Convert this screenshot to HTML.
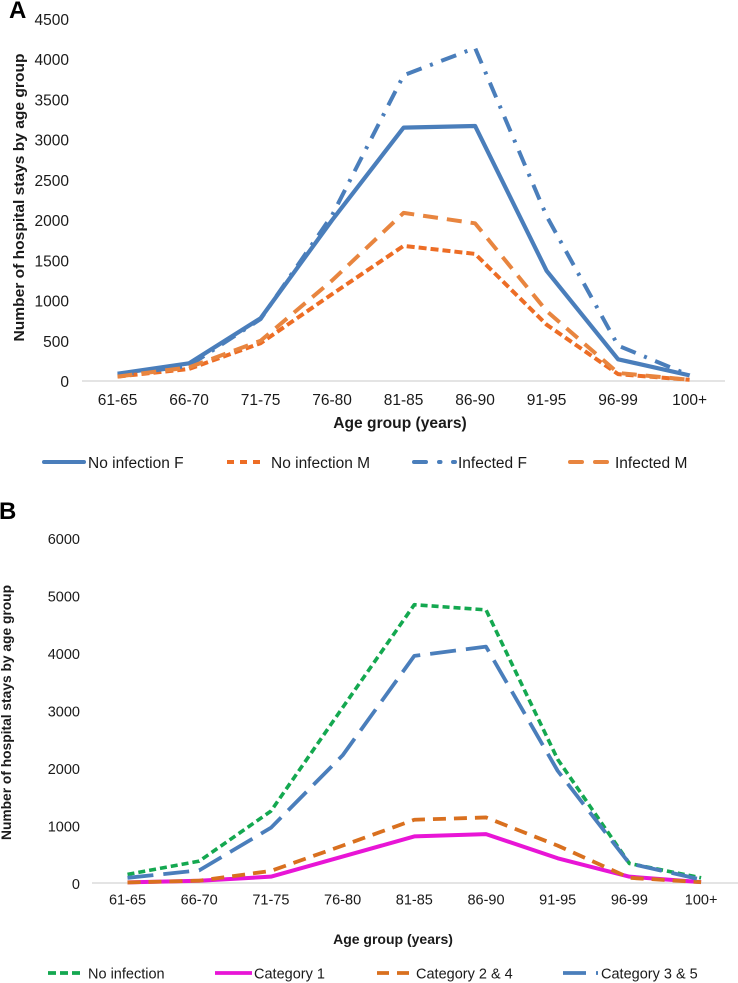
<!DOCTYPE html>
<html><head><meta charset="utf-8">
<style>
html,body{margin:0;padding:0;background:#fff}
svg{display:block}
text{font-family:"Liberation Sans",Arial,sans-serif;fill:#1a1a1a}
</style></head>
<body>
<svg id="fig" width="738" height="983" viewBox="0 0 738 983" xmlns="http://www.w3.org/2000/svg">
<text x="9" y="18" font-size="24" font-weight="bold" style="fill:#000">A</text>
<text x="-1" y="519" font-size="24" font-weight="bold" style="fill:#000">B</text>
<text transform="translate(24,197.5) rotate(-90)" text-anchor="middle" font-size="15" font-weight="bold" textLength="288" lengthAdjust="spacingAndGlyphs">Number of hospital stays by age group</text>
<text x="400" y="428" text-anchor="middle" font-size="15.6" font-weight="bold">Age group (years)</text>
<text transform="translate(11,712.5) rotate(-90)" text-anchor="middle" font-size="14" font-weight="bold" textLength="255" lengthAdjust="spacingAndGlyphs">Number of hospital stays by age group</text>
<text x="393" y="944" text-anchor="middle" font-size="14" font-weight="bold">Age group (years)</text>
<g font-size="15.5">
<line x1="44" y1="462" x2="84" y2="462" stroke="#4a7ebb" stroke-width="4" stroke-linecap="round"/>
<text x="88" y="468">No infection F</text>
<line x1="227" y1="462" x2="264" y2="462" stroke="#ed6d25" stroke-width="4" stroke-dasharray="7 6"/>
<text x="271" y="468">No infection M</text>
<path d="M414 462H426M439 462H440.5M453 462H455" stroke="#4a7ebb" stroke-width="4" stroke-linecap="round" fill="none"/>
<text x="458" y="468">Infected F</text>
<path d="M570 462H582M595 462H607" stroke="#e8853f" stroke-width="4" stroke-linecap="round" fill="none"/>
<text x="615" y="468">Infected M</text>
</g>
<g font-size="14.5">
<line x1="48" y1="973" x2="82" y2="973" stroke="#14a850" stroke-width="3.8" stroke-dasharray="8 4"/>
<text x="88" y="978.5">No infection</text>
<line x1="215" y1="973" x2="252" y2="973" stroke="#e815d6" stroke-width="3.8"/>
<text x="254" y="978.5">Category 1</text>
<path d="M377 973H389M397 973H409" stroke="#d9701f" stroke-width="3.8" fill="none"/>
<text x="416" y="978.5">Category 2 &amp; 4</text>
<path d="M563 973H586M596 973H598" stroke="#4a7ebb" stroke-width="3.8" fill="none"/>
<text x="601" y="978.5">Category 3 &amp; 5</text>
</g>
</svg>
<script>
const ageGroups = ['61-65','66-70','71-75','76-80','81-85','86-90','91-95','96-99','100+'];

const aTicks = [0,500,1000,1500,2000,2500,3000,3500,4000,4500];
const aNoInfectionF = [90,220,780,2000,3150,3170,1370,270,70];
const aNoInfectionM = [55,150,470,1080,1680,1580,700,85,15];
const aInfectedF = [70,190,770,2060,3800,4140,2050,440,70];
const aInfectedM = [55,170,500,1250,2090,1960,870,100,15];

const bTicks = [0,1000,2000,3000,4000,5000,6000];
const bNoInfection = [150,380,1250,3050,4840,4750,2150,340,90];
const bCategory1 = [10,40,110,460,810,850,430,110,15];
const bCategory24 = [10,40,210,650,1100,1140,650,90,15];
const bCategory35 = [90,220,960,2220,3950,4110,1950,340,60];

const NS = 'http://www.w3.org/2000/svg';
const fig = document.getElementById('fig');

function drawPanel(prefix, ticks, frame, series) {
  const maxTick = ticks[ticks.length - 1];
  const xAt = i => frame.x0 + i * frame.step;
  const yAt = v => frame.y0 - v / maxTick * (frame.y0 - frame.yTop);

  const axis = document.createElementNS(NS, 'line');
  
  
  axis.setAttribute('x1', frame.axisL);
  axis.setAttribute('x2', frame.axisR);
  axis.setAttribute('y1', frame.y0);
  axis.setAttribute('y2', frame.y0);
  axis.setAttribute('stroke', '#d4d4d4');
  axis.setAttribute('stroke-width', '1.2');
  fig.appendChild(axis);

  ticks.forEach(t => {
    const el = document.createElementNS(NS, 'text');
    
    
    el.setAttribute('x', frame.tickX);
    el.setAttribute('y', yAt(t) + 6);
    el.setAttribute('text-anchor', 'end');
    el.setAttribute('font-size', frame.fs);
    el.textContent = t;
    fig.appendChild(el);
  });

  ageGroups.forEach((g, i) => {
    const el = document.createElementNS(NS, 'text');
    
    
    el.setAttribute('x', xAt(i));
    el.setAttribute('y', frame.labelY);
    el.setAttribute('text-anchor', 'middle');
    el.setAttribute('font-size', frame.fs);
    el.textContent = g;
    fig.appendChild(el);
  });

  series.forEach(s => {
    const line = document.createElementNS(NS, 'polyline');
    
    
    line.setAttribute('points', s.values.map((v, i) => xAt(i) + ',' + yAt(v)).join(' '));
    line.setAttribute('fill', 'none');
    line.setAttribute('stroke', s.color);
    line.setAttribute('stroke-width', s.width);
    line.setAttribute('stroke-linejoin', 'round');
    if (s.dash) line.setAttribute('stroke-dasharray', s.dash);
    fig.appendChild(line);
  });
}

drawPanel('panel-a', aTicks,
  {x0:117.6, step:71.5, y0:381, yTop:19, axisL:82, axisR:725, tickX:69, labelY:405, fs:15.5},
  [
    {name:'no-infection-f', values:aNoInfectionF, color:'#4a7ebb', width:4.2},
    {name:'no-infection-m', values:aNoInfectionM, color:'#ed6d25', width:4, dash:'8 4'},
    {name:'infected-f', values:aInfectedF, color:'#4a7ebb', width:4, dash:'16 9 3 9'},
    {name:'infected-m', values:aInfectedM, color:'#e8853f', width:4, dash:'15 9'}
  ]);

drawPanel('panel-b', bTicks,
  {x0:127.5, step:71.7, y0:883, yTop:538, axisL:92, axisR:738, tickX:80, labelY:904.5, fs:14.5},
  [
    {name:'no-infection', values:bNoInfection, color:'#14a850', width:3.6, dash:'7 4'},
    {name:'category-1', values:bCategory1, color:'#e815d6', width:4},
    {name:'category-2-4', values:bCategory24, color:'#d9701f', width:3.8, dash:'13 8'},
    {name:'category-3-5', values:bCategory35, color:'#4a7ebb', width:3.8, dash:'26 10'}
  ]);
</script>
</body></html>
